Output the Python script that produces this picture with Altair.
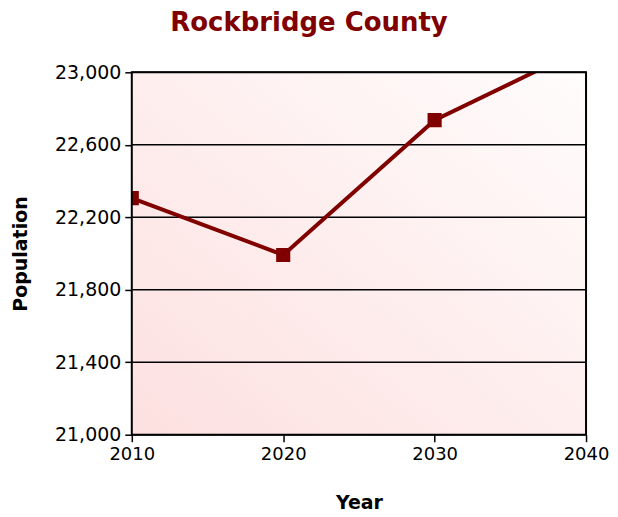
import altair as alt
import pandas as pd

years = [2010, 2020, 2030, 2040]
population = [22306, 21992, 22736, 23140]
year_ticks = [2010, 2020, 2030, 2040]
pop_ticks = [21000, 21400, 21800, 22200, 22600, 23000]

df = pd.DataFrame({"Year": years, "Population": population})
bg = pd.DataFrame({"x": [year_ticks[0]], "x2": [year_ticks[-1]],
                   "y": [pop_ticks[0]], "y2": [pop_ticks[-1]]})
grid = pd.DataFrame({"tick": pop_ticks})

FONT = "DejaVu Sans"
RED = "#800000"

xscale = alt.Scale(domain=[2010, 2040], nice=False, zero=False)
yscale = alt.Scale(domain=[21000, 23000], nice=False, zero=False)

common = dict(tickSize=7, tickColor="black", tickWidth=1.5, domain=False,
              grid=False, labelFlush=False, labelOverlap=False,
              labelFont=FONT, labelColor="black",
              titleFont=FONT, titleFontSize=19, titleFontWeight="bold",
              titleColor="black")

xaxis = alt.Axis(values=year_ticks, format="d", title="Year", labelFontSize=18,
                 labelPadding=4, titlePadding=30, **common)
yaxis = alt.Axis(values=pop_ticks, format=",.0f", title="Population",
                 labelFontSize=19, labelPadding=4, titlePadding=24, **common)

background = alt.Chart(bg).mark_rect(
    color=alt.Gradient(
        gradient="linear", x1=0, y1=1, x2=1, y2=0,
        stops=[alt.GradientStop(offset=0, color="#fde0e0"),
               alt.GradientStop(offset=1, color="#fffcfc")]
    )
).encode(
    x=alt.X("x:Q", scale=xscale, axis=xaxis),
    x2="x2:Q",
    y=alt.Y("y:Q", scale=yscale, axis=yaxis),
    y2="y2:Q",
)

gridlines = alt.Chart(grid).mark_rule(color="black", strokeWidth=1.5).encode(
    y=alt.Y("tick:Q", scale=yscale, axis=yaxis),
)

line = alt.Chart(df).mark_line(color=RED, strokeWidth=4, clip=True).encode(
    x=alt.X("Year:Q", scale=xscale, axis=xaxis),
    y=alt.Y("Population:Q", scale=yscale, axis=yaxis),
)
points = alt.Chart(df).mark_square(color=RED, size=200, opacity=1, clip=True).encode(
    x=alt.X("Year:Q", scale=xscale, axis=xaxis),
    y=alt.Y("Population:Q", scale=yscale, axis=yaxis),
)

border = alt.Chart(bg).mark_rect(fill=None, stroke="black", strokeWidth=2).encode(
    x=alt.X("x:Q", scale=xscale, axis=xaxis),
    x2="x2:Q",
    y=alt.Y("y:Q", scale=yscale, axis=yaxis),
    y2="y2:Q",
)

chart = alt.layer(background, gridlines, line, points, border).properties(
    width=455, height=363,
    title=alt.TitleParams("Rockbridge County", font=FONT, fontSize=26,
                          fontWeight="bold", color=RED, offset=27,
                          anchor="middle", dx=-50),
    autosize=alt.AutoSizeParams(type="none"),
    padding={"left": 124, "top": 64, "right": 24, "bottom": 80},
).configure_view(
    stroke=None
)

chart.save("out.html", embed_options={"renderer": "svg", "actions": False})
